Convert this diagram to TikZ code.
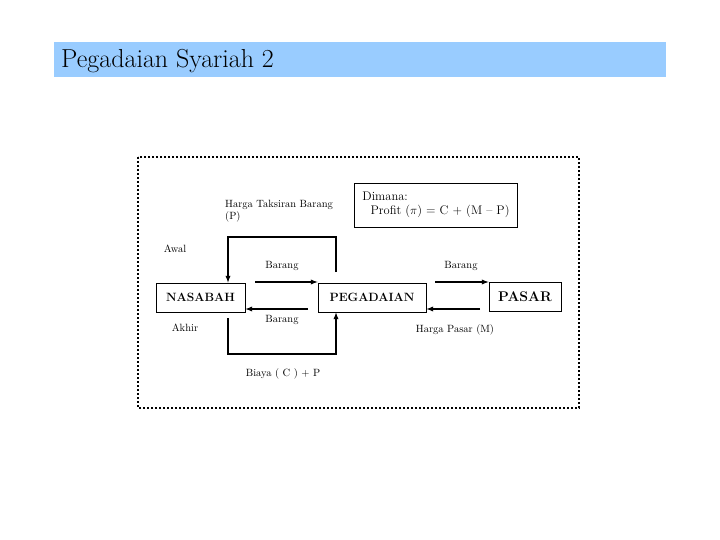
\documentclass[tikz,border=0pt]{standalone}
\begin{document}
\begin{tikzpicture}[x=1pt,y=-1pt,
  box/.style={draw,thick,minimum height=29pt,inner sep=0pt,font=\fontsize{12}{14}\selectfont\bfseries},
  lbl/.style={font=\fontsize{10.5}{12.5}\selectfont,inner sep=0pt},
  arr/.style={line width=1.3pt,-latex},
  ln/.style={thick}]
\useasboundingbox[fill=white] (0,0) rectangle (720,540);
\node[fill={rgb,255:red,153;green,204;blue,255},minimum width=612pt,minimum height=35pt,inner sep=0pt] (bar) at (360,59.5) {};
\node[anchor=west,font=\fontsize{26}{30}\selectfont,inner sep=0pt] (title) at (61,61) {Pegadaian Syariah 2};
\draw[line width=2pt,dash pattern=on 2pt off 2pt] (138,157) rectangle (579,408);
\node[box,minimum width=89pt] (nas) at (200.5,297.5) {NASABAH};
\node[box,minimum width=108pt] (peg) at (372,297.5) {PEGADAIAN};
\node[box,minimum width=72pt,font=\fontsize{14}{16}\selectfont\bfseries] (pas) at (525,297) {PASAR};
\node[draw,thick,minimum width=163pt,minimum height=44pt,align=left,inner sep=0pt,font=\fontsize{12.5}{14.5}\selectfont] (dim) at (436,205) {Dimana:\\\ \ Profit ($\pi$) = C + (M -- P)};
\coordinate (t1) at (336,272); \coordinate (t2) at (336,237); \coordinate (t3) at (228,237);
\draw[arr] (t1) -- (t2) -- (t3) -- (t3|-nas.north);
\coordinate (b1) at (228,318); \coordinate (b2) at (228,354); \coordinate (b3) at (336,354);
\draw[arr] (b1) -- (b2) -- (b3) -- (b3|-peg.south);
\coordinate (r1) at (255,282); \draw[arr] (r1) -- (r1-|peg.west);
\coordinate (l1) at (308,309); \draw[arr] (l1) -- (l1-|nas.east);
\coordinate (r2) at (435,282); \draw[arr] (r2) -- (r2-|pas.west);
\coordinate (l2) at (480,309); \draw[arr] (l2) -- (l2-|peg.east);
\node[lbl,anchor=west,align=left] (hts) at (225,211) {Harga Taksiran Barang\\(P)};
\node[lbl] (awal) at (175,249) {Awal};
\node[lbl] (brg1) at (282,266) {Barang};
\node[lbl] (brg2) at (461,266) {Barang};
\node[lbl] (brg3) at (282,320) {Barang};
\node[lbl] (akh) at (185,328) {Akhir};
\node[lbl] (hp) at (455,330) {Harga Pasar (M)};
\node[lbl] (by) at (283,374) {Biaya ( C ) + P};
\end{tikzpicture}
\end{document}
